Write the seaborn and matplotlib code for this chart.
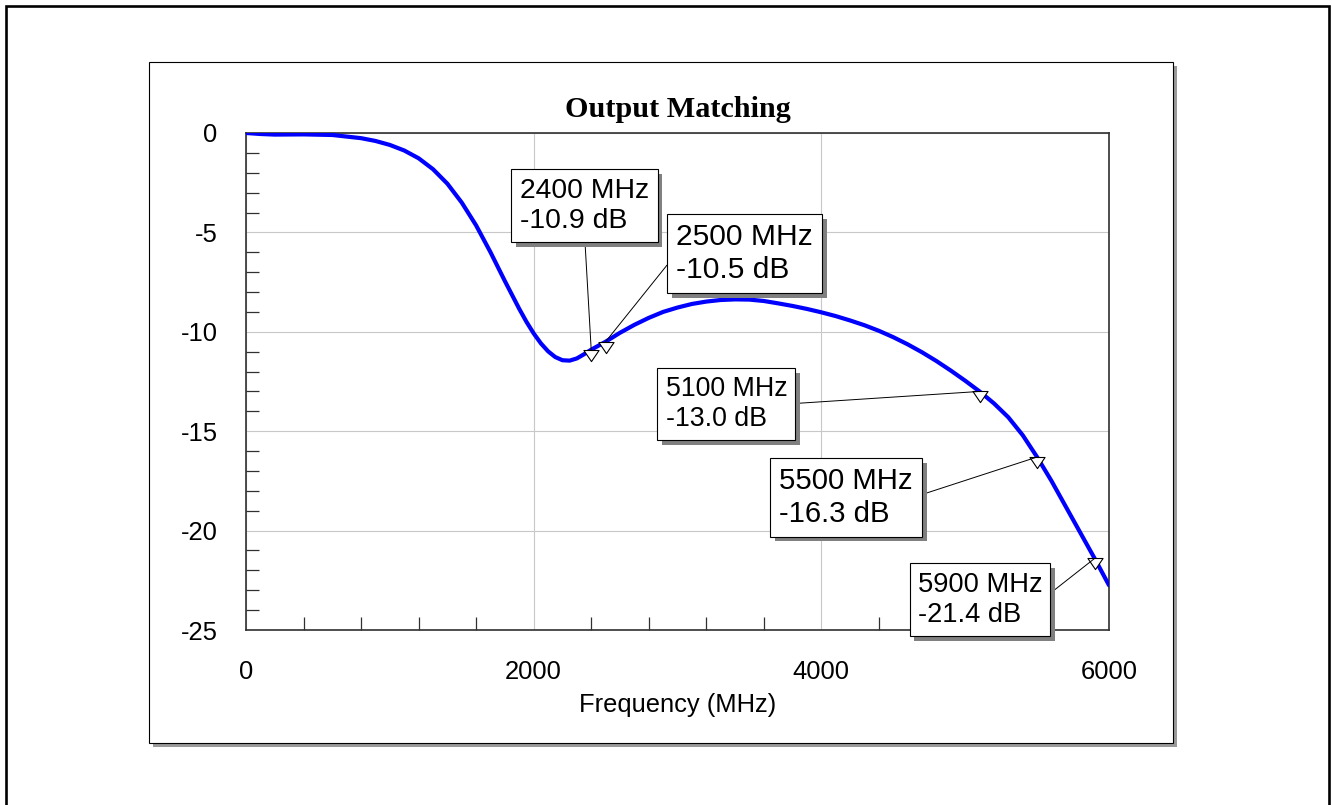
import numpy as np
import pandas as pd
import matplotlib
matplotlib.use("Agg")
import matplotlib.pyplot as plt
import matplotlib.patheffects as pe
from matplotlib.patches import Rectangle
from matplotlib.lines import Line2D
from matplotlib.path import Path
from matplotlib.ticker import MultipleLocator
import seaborn as sns

# Output match response (S22) versus frequency
freq_mhz = [0, 100, 200, 400, 600, 800, 900, 1000, 1100, 1200, 1300, 1400,
            1500, 1600, 1700, 1800, 1900, 1950, 2000, 2050, 2100, 2150, 2200,
            2250, 2300, 2350, 2400, 2500, 2600, 2700, 2800, 2900, 3000, 3100,
            3200, 3300, 3400, 3500, 3600, 3700, 3800, 3900, 4000, 4100, 4200,
            4300, 4400, 4500, 4600, 4700, 4800, 4900, 5000, 5100, 5200, 5300,
            5400, 5500, 5600, 5700, 5800, 5900, 6000]
s22_db = [0.0, -0.05, -0.08, -0.07, -0.10, -0.26, -0.40, -0.60, -0.88, -1.27,
          -1.82, -2.55, -3.50, -4.65, -6.00, -7.45, -8.85, -9.50, -10.08,
          -10.58, -10.98, -11.27, -11.43, -11.45, -11.34, -11.13, -10.9,
          -10.5, -10.05, -9.65, -9.30, -9.00, -8.78, -8.60, -8.48, -8.40,
          -8.37, -8.38, -8.45, -8.57, -8.70, -8.85, -9.02, -9.21, -9.43,
          -9.67, -9.95, -10.27, -10.63, -11.03, -11.47, -11.95, -12.46,
          -13.0, -13.60, -14.30, -15.20, -16.3, -17.50, -18.80, -20.10,
          -21.4, -22.75]

# Marker readouts
marker_freq = [2400, 2500, 5100, 5500, 5900]
marker_db = [-10.9, -10.5, -13.0, -16.3, -21.4]

title = "Output Matching"
xlabel = "Frequency (MHz)"
x_ticks = [0, 2000, 4000, 6000]
y_ticks = [0, -5, -10, -15, -20, -25]

sns.set_style("white")
plt.rcParams["font.family"] = ["Liberation Sans", "DejaVu Sans"]
plt.rcParams["axes.unicode_minus"] = False
plt.rcParams["text.color"] = "black"

W, H = 1332, 805
fig = plt.figure(figsize=(W / 100, H / 100), dpi=100)
fig.patch.set_facecolor("white")


def fx(px):
    return px / W


def fy(py):
    return 1 - py / H


# Outer frame (open at the bottom edge of the page)
fig.add_artist(Line2D([fx(6), fx(6), fx(1329), fx(1329)],
                      [fy(812), fy(6), fy(6), fy(812)],
                      transform=fig.transFigure, color="black", lw=1.9,
                      solid_joinstyle="miter", zorder=0))

# Chart panel with drop shadow
fig.add_artist(Rectangle((fx(153), fy(747)), fx(1173 - 149), (743 - 62) / H,
                         transform=fig.transFigure, facecolor="#9a9a9a",
                         edgecolor="none", zorder=0))
fig.add_artist(Rectangle((fx(149), fy(743)), fx(1173 - 149), (743 - 62) / H,
                         transform=fig.transFigure, facecolor="white",
                         edgecolor="black", lw=0.8, zorder=0.5))

ax = fig.add_axes([fx(246), fy(630), fx(1109 - 246), (630 - 133) / H])
ax.set_zorder(2)
ax.set_facecolor("white")

df = pd.DataFrame({"freq": freq_mhz, "db": s22_db})
sns.lineplot(data=df, x="freq", y="db", ax=ax, color="#0000ff", lw=3.0,
             zorder=3)

# Open triangles hanging beneath each marker point
tri = Path([(-0.68, 0), (0.68, 0), (0, -1), (-0.68, 0)],
           [Path.MOVETO, Path.LINETO, Path.LINETO, Path.CLOSEPOLY])
ax.plot(marker_freq, marker_db, linestyle="none", marker=tri, ms=16,
        mfc="white", mec="black", mew=0.8, zorder=4, clip_on=False)

ax.set_xlim(0, 6000)
ax.set_ylim(-25, 0)
ax.set_xticks(x_ticks)
ax.set_yticks(y_ticks)
ax.set_xticklabels([str(v) for v in x_ticks])
ax.set_yticklabels([str(v) for v in y_ticks])
ax.xaxis.set_minor_locator(MultipleLocator(400))
ax.yaxis.set_minor_locator(MultipleLocator(1))
ax.tick_params(which="major", length=0, labelsize=18.4, colors="black",
               bottom=True, left=True)
ax.tick_params(axis="y", which="major", pad=20.5)
ax.tick_params(axis="x", which="major", pad=21.5)
ax.tick_params(which="minor", direction="in", length=9.5, width=0.9,
               color="#303030", bottom=True, left=True, top=False,
               right=False)

ax.grid(True, which="major", color="#c8c8c8", lw=0.8)
ax.set_axisbelow(True)
for side in ["left", "right", "top", "bottom"]:
    ax.spines[side].set_visible(True)
    ax.spines[side].set_color("#303030")
    ax.spines[side].set_linewidth(1.2)

ax.set_title(title, fontsize=21.7, fontweight="bold", color="black",
             family=["Liberation Serif", "DejaVu Serif"], pad=11.2)
ax.set_xlabel("")
ax.set_ylabel("")
fig.text(fx(677.5), fy(712.3), xlabel, ha="center", va="baseline",
         fontsize=18.4, color="black", zorder=3)

# Readout boxes: centre (px), font size, attachment point on the box edge
box_layout = [
    ((584.5, 205.5), 20.4, (0.5, 0.0)),
    ((744.7, 253.5), 21.6, (0.0, 0.5)),
    ((726.4, 404.0), 19.3, (1.0, 0.5)),
    ((846.0, 497.5), 21.2, (1.0, 0.5)),
    ((980.0, 599.5), 19.6, (1.0, 0.5)),
]
for f, d, (centre, fs, rel) in zip(marker_freq, marker_db, box_layout):
    ann = ax.annotate(
        f"{f} MHz\n{d:.1f} dB", xy=(f, d),
        xytext=(centre[0], H - centre[1]), textcoords="figure pixels",
        ha="center", va="center", multialignment="left", fontsize=fs,
        color="black",
        bbox=dict(boxstyle="square,pad=0.3", fc="white", ec="black", lw=0.8),
        arrowprops=dict(arrowstyle="-", color="black", lw=0.7, shrinkA=0,
                        shrinkB=0, relpos=rel),
        zorder=5, annotation_clip=False)
    ann.get_bbox_patch().set_path_effects(
        [pe.SimplePatchShadow(offset=(3.5, -3.5), shadow_rgbFace="#808080",
                              alpha=1.0), pe.Normal()])

fig.savefig("out.png", dpi=100)
